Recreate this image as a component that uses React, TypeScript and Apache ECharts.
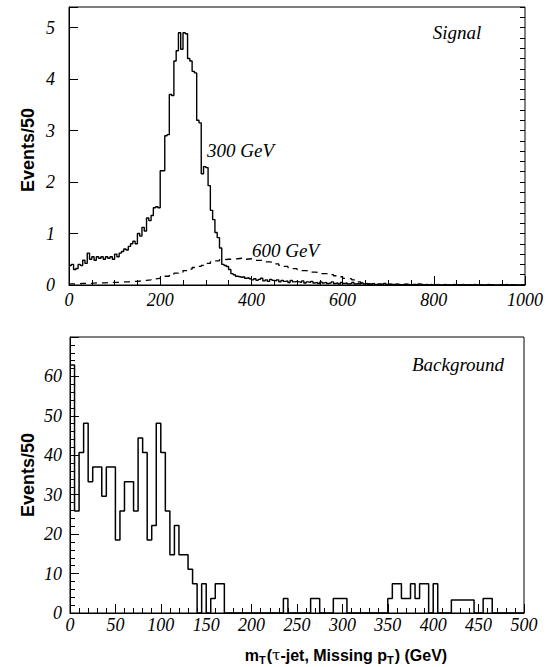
import React, { useEffect, useRef } from 'react';
import * as echarts from 'echarts';

// ---- Data ----
// Top panel: 300 GeV signal, 5 GeV bins from 0 to 1000
const SIG300_BIN = 5;
const sig300 = [
  0.38, 0.40, 0.30, 0.32, 0.40, 0.38, 0.48, 0.42, 0.62, 0.50,
  0.55, 0.48, 0.55, 0.52, 0.55, 0.50, 0.55, 0.52, 0.55, 0.50,
  0.60, 0.55, 0.62, 0.65, 0.70, 0.68, 0.75, 0.80, 0.85, 0.80,
  1.00, 0.95, 1.12, 1.05, 1.30, 1.25, 1.35, 1.50, 1.52, 1.50,
  2.22, 2.22, 2.90, 2.92, 3.70, 3.68, 4.35, 4.55, 4.90, 4.58,
  4.90, 4.88, 4.40, 4.35, 4.15, 4.12, 3.20, 3.15, 2.16, 2.30,
  2.28, 1.93, 1.45, 1.27, 1.02, 0.92, 0.72, 0.40, 0.38, 0.36,
  0.30, 0.22, 0.20, 0.17, 0.16, 0.15, 0.16, 0.13, 0.14, 0.12,
  0.10, 0.12, 0.09, 0.11, 0.13, 0.08, 0.10, 0.07, 0.11, 0.09,
  0.08, 0.10, 0.06, 0.09, 0.07, 0.08, 0.05, 0.09, 0.06, 0.07,
  0.06, 0.05, 0.08, 0.04, 0.06, 0.05, 0.07, 0.04, 0.05, 0.03,
  0.06, 0.04, 0.05, 0.03, 0.04, 0.06, 0.03, 0.04, 0.02, 0.05,
  0.03, 0.04, 0.02, 0.03, 0.05, 0.02, 0.03, 0.02, 0.04, 0.02,
  0.03, 0.01, 0.02, 0.03, 0.01, 0.02, 0.02, 0.01, 0.03, 0.01,
  0.02, 0.01, 0.01, 0.02, 0.01, 0.00, 0.01, 0.02, 0.01, 0.00,
  0.01, 0.01, 0.00, 0.02, 0.01, 0.00, 0.01, 0.00, 0.01, 0.00,
  0.00, 0.01, 0.00, 0.00, 0.01, 0.00, 0.00, 0.00, 0.01, 0.00,
  0.00, 0.00, 0.01, 0.00, 0.00, 0.00, 0.00, 0.01, 0.00, 0.00,
  0.00, 0.00, 0.00, 0.01, 0.00, 0.00, 0.00, 0.00, 0.00, 0.00,
  0.00, 0.01, 0.00, 0.00, 0.00, 0.00, 0.00, 0.00, 0.00, 0.00,
];

// Top panel: 600 GeV signal (dashed), 10 GeV bins from 0 to 1000
const SIG600_BIN = 10;
const sig600 = [
  0.02, 0.02, 0.03, 0.03, 0.03, 0.04, 0.04, 0.04, 0.05, 0.05,
  0.05, 0.06, 0.06, 0.07, 0.07, 0.08, 0.09, 0.10, 0.12, 0.13,
  0.15, 0.17, 0.20, 0.23, 0.25, 0.28, 0.31, 0.34, 0.36, 0.38,
  0.42, 0.45, 0.47, 0.49, 0.50, 0.50, 0.51, 0.52, 0.50, 0.51,
  0.50, 0.48, 0.47, 0.45, 0.44, 0.41, 0.38, 0.36, 0.34, 0.32,
  0.30, 0.28, 0.27, 0.25, 0.24, 0.22, 0.22, 0.20, 0.18, 0.16,
  0.13, 0.12, 0.10, 0.06, 0.03, 0.02, 0.01, 0.01, 0.00, 0.00,
  0.00, 0.00, 0.00, 0.00, 0.00, 0.00, 0.00, 0.00, 0.00, 0.00,
  0.00, 0.00, 0.00, 0.00, 0.00, 0.00, 0.00, 0.00, 0.00, 0.00,
  0.00, 0.00, 0.00, 0.00, 0.00, 0.00, 0.00, 0.00, 0.00, 0.00,
];

// Bottom panel: background, 5 GeV bins from 0 to 500
const BKG_BIN = 5;
const bkg = [
  62.9, 25.9, 40.7, 48.1, 33.3, 37.0, 37.0, 29.6, 37.0, 37.0,
  18.5, 25.9, 33.3, 33.3, 25.9, 44.4, 40.7, 18.5, 22.2, 48.1,
  40.7, 25.9, 14.8, 22.2, 14.8, 14.8, 11.1, 7.4, 0, 7.4,
  0, 3.7, 7.4, 7.4, 0, 0, 0, 0, 0, 0,
  0, 0, 0, 0, 0, 0, 0, 3.7, 0, 0,
  0, 0, 0, 3.7, 3.7, 0, 0, 0, 3.7, 3.7,
  3.7, 0, 0, 0, 0, 0, 0, 0, 0, 0,
  3.7, 7.4, 7.4, 3.7, 3.7, 7.4, 3.7, 7.4, 7.4, 0,
  7.4, 0, 0, 0, 3.3, 3.3, 3.3, 3.3, 3.3, 0,
  0, 3.7, 3.7, 0, 0, 0, 0, 0, 0, 0,
];

// Tick labels
const TOP_X_LABELS = [0, 200, 400, 600, 800, 1000];
const TOP_Y_LABELS = [0, 1, 2, 3, 4, 5];
const BOT_X_LABELS = [0, 50, 100, 150, 200, 250, 300, 350, 400, 450, 500];
const BOT_Y_LABELS = [0, 10, 20, 30, 40, 50, 60];

const TOP_X = { min: 0, max: 1000, major: 200, minorSplit: 4 };
const TOP_Y = { min: 0, max: 5.4, major: 1, minor: 0.2 };
const BOT_X = { min: 0, max: 500, major: 50, minorSplit: 5 };
const BOT_Y = { min: 0, max: 70, major: 10, minorSplit: 5 };

const Y_TITLE = 'Events/50';

function stepData(vals: number[], w: number) {
  const d: number[][] = vals.map((v, i) => [i * w, v]);
  d.push([vals.length * w, vals[vals.length - 1]]);
  return d;
}

const SANS = 'Liberation Sans';

function serifItalic(size: number) {
  return { font: 'italic ' + size + 'px "Liberation Serif", "Times New Roman", serif', fill: '#000' };
}

export default function App() {
  const ref = useRef<HTMLDivElement>(null);

  useEffect(() => {
    if (!ref.current) return;
    const chart = echarts.init(ref.current, undefined, { renderer: 'svg' });

    const axisLine = { show: true, lineStyle: { color: '#000', width: 1 } };
    const noLabel = { show: false };

    const option: any = {
      animation: false,
      backgroundColor: '#fff',
      grid: [
        { left: 69, right: 27, top: 7, height: 278, show: true, borderColor: '#000', borderWidth: 1, backgroundColor: 'transparent' },
        { left: 70, right: 28, top: 337, height: 276, show: true, borderColor: '#000', borderWidth: 1, backgroundColor: 'transparent' },
      ],
      xAxis: [
        {
          type: 'value', gridIndex: 0, min: TOP_X.min, max: TOP_X.max, interval: TOP_X.major,
          axisLine, splitLine: { show: false }, axisLabel: noLabel,
          axisTick: { show: true, inside: true, length: 9, lineStyle: { color: '#000' } },
          minorTick: { show: true, splitNumber: TOP_X.minorSplit, length: 5, lineStyle: { color: '#000' } },
        },
        {
          type: 'value', gridIndex: 1, min: BOT_X.min, max: BOT_X.max, interval: BOT_X.major,
          axisLine, splitLine: { show: false }, axisLabel: noLabel,
          axisTick: { show: true, inside: true, length: 9, lineStyle: { color: '#000' } },
          minorTick: { show: true, splitNumber: BOT_X.minorSplit, length: 5, lineStyle: { color: '#000' } },
        },
      ],
      yAxis: [
        {
          type: 'value', gridIndex: 0, min: TOP_Y.min, max: TOP_Y.max, interval: TOP_Y.major,
          axisLine, splitLine: { show: false }, axisLabel: noLabel,
          axisTick: { show: true, inside: true, length: 9, lineStyle: { color: '#000' } },
        },
        {
          type: 'value', gridIndex: 0, min: TOP_Y.min, max: TOP_Y.max, interval: TOP_Y.minor,
          axisLine: { show: false }, splitLine: { show: false }, axisLabel: noLabel,
          axisTick: { show: true, inside: true, length: 5, lineStyle: { color: '#000' } },
        },
        {
          type: 'value', gridIndex: 1, min: BOT_Y.min, max: BOT_Y.max, interval: BOT_Y.major,
          axisLine, splitLine: { show: false }, axisLabel: noLabel,
          axisTick: { show: true, inside: true, length: 9, lineStyle: { color: '#000' } },
          minorTick: { show: true, splitNumber: BOT_Y.minorSplit, length: 5, lineStyle: { color: '#000' } },
        },
      ],
      series: [
        {
          type: 'line', xAxisIndex: 0, yAxisIndex: 0, step: 'end', symbol: 'none',
          data: stepData(sig300, SIG300_BIN),
          lineStyle: { color: '#000', width: 1.4 },
        },
        {
          type: 'line', xAxisIndex: 0, yAxisIndex: 0, step: 'end', symbol: 'none',
          data: stepData(sig600, SIG600_BIN),
          lineStyle: { color: '#000', width: 1.3, type: [6, 5] },
        },
        {
          type: 'line', xAxisIndex: 1, yAxisIndex: 2, step: 'end', symbol: 'none',
          data: stepData(bkg, BKG_BIN),
          lineStyle: { color: '#000', width: 1.5 },
        },
      ],
    };

    chart.setOption(option);

    // Tick labels placed through the axes' own scales
    const labels: any[] = [];
    TOP_X_LABELS.forEach((v) => {
      const px = chart.convertToPixel({ xAxisIndex: 0 }, v) as number;
      const py = chart.convertToPixel({ yAxisIndex: 0 }, TOP_Y.min) as number;
      labels.push({ type: 'text', x: px, y: py + 15, style: { text: String(v), ...serifItalic(18), align: 'center', verticalAlign: 'middle' } });
    });
    TOP_Y_LABELS.forEach((v) => {
      const px = chart.convertToPixel({ xAxisIndex: 0 }, TOP_X.min) as number;
      const py = chart.convertToPixel({ yAxisIndex: 0 }, v) as number;
      labels.push({ type: 'text', x: px - 14, y: py, style: { text: String(v), ...serifItalic(18), align: 'right', verticalAlign: 'middle' } });
    });
    BOT_X_LABELS.forEach((v) => {
      const px = chart.convertToPixel({ xAxisIndex: 1 }, v) as number;
      const py = chart.convertToPixel({ yAxisIndex: 2 }, BOT_Y.min) as number;
      labels.push({ type: 'text', x: px, y: py + 12, style: { text: String(v), ...serifItalic(18), align: 'center', verticalAlign: 'middle' } });
    });
    BOT_Y_LABELS.forEach((v) => {
      const px = chart.convertToPixel({ xAxisIndex: 1 }, BOT_X.min) as number;
      const py = chart.convertToPixel({ yAxisIndex: 2 }, v) as number;
      labels.push({ type: 'text', x: px - 8, y: py, style: { text: String(v), ...serifItalic(18), align: 'right', verticalAlign: 'middle' } });
    });

    const titleFont = { font: 'bold 18px "Liberation Sans", Arial, sans-serif', fill: '#000' };

    chart.setOption({
      graphic: [
        ...labels,
        { type: 'text', x: 28, y: 150, rotation: Math.PI / 2, style: { text: Y_TITLE, ...titleFont, align: 'center', verticalAlign: 'middle' } },
        { type: 'text', x: 28, y: 475, rotation: Math.PI / 2, style: { text: Y_TITLE, ...titleFont, align: 'center', verticalAlign: 'middle' } },
        { type: 'text', x: 457, y: 32, style: { text: 'Signal', ...serifItalic(19), align: 'center', verticalAlign: 'middle' } },
        { type: 'text', x: 207, y: 150, style: { text: '300 GeV', ...serifItalic(19), align: 'left', verticalAlign: 'middle' } },
        { type: 'text', x: 252, y: 250, style: { text: '600 GeV', ...serifItalic(19), align: 'left', verticalAlign: 'middle' } },
        { type: 'text', x: 458, y: 364, style: { text: 'Background', ...serifItalic(19), align: 'center', verticalAlign: 'middle' } },
        {
          type: 'text', x: 346, y: 655,
          style: {
            text: '{b|m}{s|T}{b|(}{t|τ}{b|-jet, Missing p}{s|T}{b|) (GeV)}',
            align: 'center', verticalAlign: 'middle',
            rich: {
              b: { fontFamily: SANS, fontWeight: 'bold', fontSize: 16, fill: '#000', lineHeight: 20 },
              s: { fontFamily: SANS, fontWeight: 'bold', fontSize: 11, fill: '#000', lineHeight: 20, verticalAlign: 'bottom', padding: [8, 1, 0, 0] },
              t: { fontFamily: 'DejaVu Serif', fontSize: 15, fill: '#000', lineHeight: 20 },
            },
          },
        },
      ],
    });

    return () => chart.dispose();
  }, []);

  return (
    <div
      ref={ref}
      style={{ position: 'fixed', left: 0, top: 0, width: 552, height: 667, background: '#fff' }}
    />
  );
}
